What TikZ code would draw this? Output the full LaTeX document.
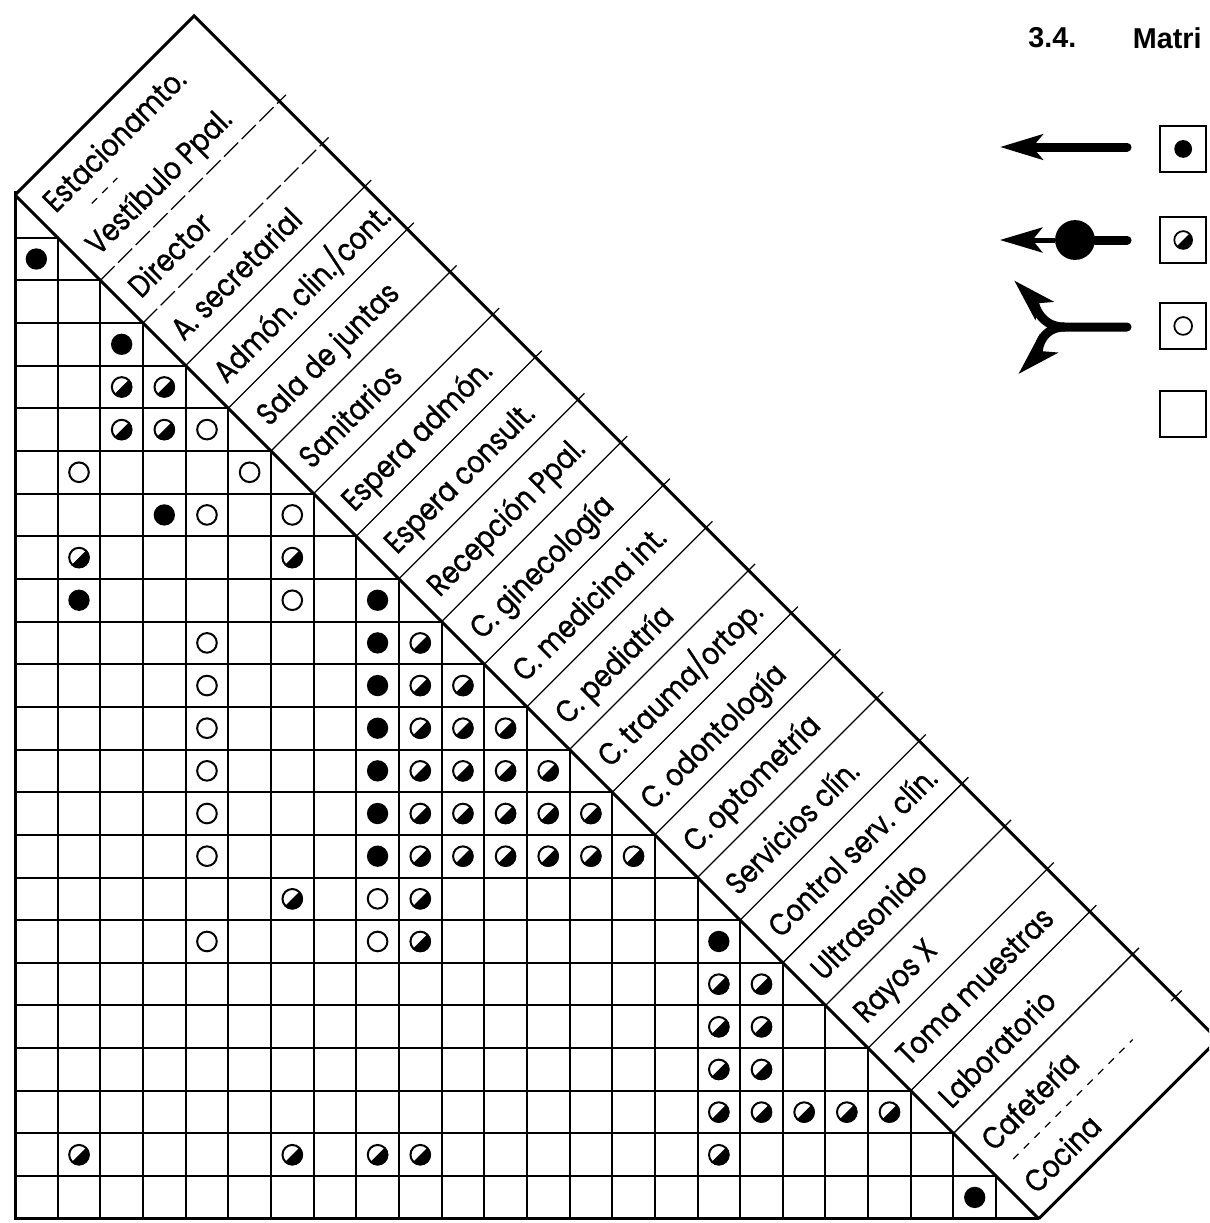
\documentclass[tikz,border=0pt]{standalone}
\usepackage{fontspec}
\setmainfont{Liberation Sans}
\newfontfamily\rotulo[FakeStretch=0.84, FakeBold=0.9]{Poppins}
\usetikzlibrary{arrows.meta}

\begin{document}
\begin{tikzpicture}[
        x=0.6cm, y=0.6cm,
        rejilla/.style={line width=0.8pt},
        borde/.style={line width=1.2pt},
        separa/.style={line width=0.5pt},
        etiqueta/.style={anchor=base west, rotate=45, inner sep=0pt, font=\rotulo\fontsize{12.5}{14}\selectfont},
        caja/.style={draw, line width=0.8pt, minimum size=0.648cm, inner sep=0pt},
        punto/.style={circle, minimum size=0.25cm, inner sep=0pt},
        mitad/.style={punto, draw, line width=0.7pt,
            path picture={\fill (path picture bounding box.south west) -- (path picture bounding box.south east)
                -- (path picture bounding box.north east) -- cycle;}},
        flecha/.style={line width=3.6pt, line cap=round},
        punta/.style={-{Stealth[length=17pt, width=10pt, inset=4pt]}},
        fuerte/.pic={\fill (0,0) circle (0.25);},
        media/.pic={\draw[line width=0.8pt] (0,0) circle (0.23);
            \fill (45:0.25) arc[start angle=45, end angle=-135, radius=0.25] -- cycle;},
        debil/.pic={\draw[line width=0.8pt] (0,0) circle (0.23);}
    ]

    % --- Marco de la hoja ---
    \useasboundingbox (-0.352,-24.10) rectangle (27.995,4.572);
    \clip (-0.352,-24.10) rectangle (27.995,4.572);

    % --- Titulo (cortado por el borde) ---
    \node[anchor=west, font=\bfseries\fontsize{11.5}{13}\selectfont] (numero) at (23.55,3.68) {3.4.};
    \node[anchor=west, font=\bfseries\fontsize{11.5}{13}\selectfont] (titulo) at (26.0,3.68) {Matri};

    % --- Reticula triangular ---
    \foreach \k in {1,...,23}
        \draw[rejilla] (0,-\k) -- (\k,-\k) -- (\k,-24);
    \draw[borde] (0,0.1) -- (0,-24) -- (24,-24);
    \draw[borde] (0,0) -- (24,-24);

    % --- Franja de locales ---
    \draw[borde] (0,0) -- (4.2,4.2) -- (28.2,-19.8) -- (24,-24);
    \draw[separa, dashed] (1.8,-0.2) -- (2.4,0.4);
    \foreach \k in {2,3}
        \draw[separa, dash pattern=on 8pt off 2pt] (\k,-\k) -- ++(4.35,4.35);
    \foreach \k in {4,...,22}
        \draw[separa] (\k,-\k) -- ++(4.35,4.35);
    \draw[separa, dashed] (23.4,-22.6) -- (26.2,-19.8);
    \draw[separa] (27.1,-18.9) -- (27.35,-18.65);

    \foreach \k/\txt in {0/{Estacionamto.}, 1/{Vestíbulo Ppal.}, 2/{Director},
            3/{A. secretarial}, 4/{Admón.\,clin./cont.}, 5/{Sala de juntas},
            6/{Sanitarios}, 7/{Espera admón.}, 8/{Espera consult.},
            9/{Recepción Ppal.}, 10/{C. ginecología}, 11/{C. medicina int.},
            12/{C. pediatría}, 13/{C.\,trauma/ortop.}, 14/{C.\,odontología},
            15/{C.\,optometría}, 16/{Servicios clín.}, 17/{Control serv. clín.},
            18/{Ultrasonido}, 19/{Rayos X}, 20/{Toma muestras},
            21/{Laboratorio}, 22/{Cafetería}, 23/{Cocina}}
        \node[etiqueta] (et\k) at ({\k+0.95},{-\k-0.45}) {\txt};

    % --- Relaciones: fila/columna ---
    \foreach \fila/\col in {1/0, 3/2, 7/3, 9/1, 9/8, 10/8, 11/8, 12/8, 13/8,
            14/8, 15/8, 17/16, 23/22}
        \pic at ({\col+0.5},{-\fila-0.5}) {fuerte};
    \foreach \fila/\col in {4/2, 4/3, 5/2, 5/3, 8/1, 8/6, 10/9, 11/9, 11/10,
            12/9, 12/10, 12/11, 13/9, 13/10, 13/11, 13/12,
            14/9, 14/10, 14/11, 14/12, 14/13,
            15/9, 15/10, 15/11, 15/12, 15/13, 15/14,
            16/6, 16/9, 17/9, 18/16, 18/17, 19/16, 19/17, 20/16, 20/17,
            21/16, 21/17, 21/18, 21/19, 21/20,
            22/1, 22/6, 22/8, 22/9, 22/16}
        \pic at ({\col+0.5},{-\fila-0.5}) {media};
    \foreach \fila/\col in {5/4, 6/1, 6/5, 7/4, 7/6, 9/6, 10/4, 11/4, 12/4,
            13/4, 14/4, 15/4, 16/8, 17/4, 17/8}
        \pic at ({\col+0.5},{-\fila-0.5}) {debil};

    % --- Leyenda ---
    \node[caja] (cajaA) at (27.386,1.08) {};
    \node[punto, fill] (puntoA) at (cajaA) {};
    \node[caja] (cajaB) at (27.386,-1.055) {};
    \node[mitad] (puntoB) at (cajaB) {};
    \node[caja] (cajaC) at (27.386,-3.07) {};
    \node[punto, draw, line width=0.7pt] (puntoC) at (cajaC) {};
    \node[caja] (cajaD) at (27.386,-5.13) {};

    \coordinate (fA0) at (26.07,1.125);
    \coordinate (fA1) at (23.09,1.125);
    \draw[flecha, punta] (fA0) -- (fA1);

    \coordinate (fB0) at (26.07,-1.055);
    \coordinate (fB1) at (23.09,-1.055);
    \node[circle, fill, minimum size=0.56cm, inner sep=0pt] (bola) at (24.85,-1.055) {};
    \draw[flecha] (fB0) -- (bola);
    \draw[line width=2pt, punta] (bola) -- (fB1);

    \coordinate (fC0) at (26.07,-3.095);
    \coordinate (nudo) at (24.6,-3.095);
    \coordinate (fC1) at (23.42,-2.0);
    \coordinate (fC2) at (23.52,-4.2);
    \draw[flecha, punta] (fC0) -- (nudo) to[out=180, in=-45] (fC1);
    \draw[flecha, punta] (nudo) to[out=180, in=45] (fC2);

\end{tikzpicture}
\end{document}
